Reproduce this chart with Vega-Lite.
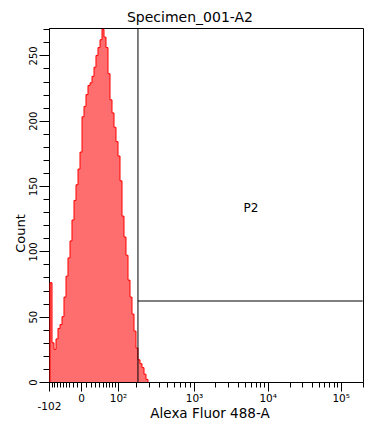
{
  "$schema": "https://vega.github.io/schema/vega-lite/v6.json",
  "width": 314,
  "height": 354,
  "autosize": "none",
  "padding": {"left": 49, "top": 28, "right": 2, "bottom": 39},
  "background": "white",
  "title": {"text": "Specimen_001-A2", "font": "DejaVu Sans", "fontSize": 14, "fontWeight": "normal", "color": "black", "anchor": "middle", "dx": -16, "offset": 2},
  "config": {
    "view": {"stroke": "black", "strokeWidth": 1},
    "axis": {"domainColor": "black", "tickColor": "black", "labelColor": "black", "titleColor": "black", "labelFont": "DejaVu Sans", "titleFont": "DejaVu Sans", "titleFontWeight": "normal", "grid": false, "labelOverlap": false, "labelBound": false, "labelFlush": false}
  },
  "datasets": {
    "hist": [
      {"x": -97.6, "count": 0},
      {"x": -97.6, "count": 76},
      {"x": -89.1, "count": 30},
      {"x": -81.0, "count": 25},
      {"x": -73.2, "count": 33},
      {"x": -65.8, "count": 41},
      {"x": -58.6, "count": 44},
      {"x": -51.8, "count": 50},
      {"x": -45.3, "count": 65},
      {"x": -39.0, "count": 81},
      {"x": -33.1, "count": 95},
      {"x": -27.3, "count": 108},
      {"x": -21.9, "count": 124},
      {"x": -16.6, "count": 139},
      {"x": -11.6, "count": 151},
      {"x": -6.8, "count": 163},
      {"x": -2.2, "count": 176},
      {"x": 1.9, "count": 203},
      {"x": 5.8, "count": 211},
      {"x": 9.8, "count": 220},
      {"x": 14.0, "count": 227},
      {"x": 18.4, "count": 229},
      {"x": 22.9, "count": 234},
      {"x": 27.6, "count": 241},
      {"x": 32.4, "count": 250},
      {"x": 37.5, "count": 256},
      {"x": 42.8, "count": 262},
      {"x": 48.2, "count": 270},
      {"x": 53.9, "count": 264},
      {"x": 59.7, "count": 256},
      {"x": 65.8, "count": 236},
      {"x": 72.2, "count": 216},
      {"x": 78.7, "count": 206},
      {"x": 85.6, "count": 195},
      {"x": 92.6, "count": 184},
      {"x": 100.0, "count": 173},
      {"x": 109.2, "count": 154},
      {"x": 118.8, "count": 127},
      {"x": 128.8, "count": 111},
      {"x": 139.3, "count": 97},
      {"x": 150.3, "count": 78},
      {"x": 161.8, "count": 65},
      {"x": 173.8, "count": 52},
      {"x": 186.4, "count": 39},
      {"x": 199.5, "count": 26},
      {"x": 213.2, "count": 17},
      {"x": 227.6, "count": 14},
      {"x": 242.6, "count": 11},
      {"x": 258.4, "count": 6},
      {"x": 274.8, "count": 2},
      {"x": 292.0, "count": 0}
    ]
  },
  "encoding": {
    "x": {
      "field": "x",
      "type": "quantitative",
      "scale": {"type": "symlog", "constant": 100, "domain": [-102, 0, 100, 1000, 10000, 100000, 200000], "range": [0, 32, 69, 145, 218.7, 291.7, 313.7], "nice": false, "zero": false},
      "axis": null
    },
    "y": {
      "field": "count",
      "type": "quantitative",
      "scale": {"domain": [0, 271], "nice": false, "zero": true},
      "axis": {
        "title": "Count",
        "titleFontSize": 13,
        "titleAngle": 270,
        "titleX": -29,
        "titleY": 205,
        "titleAlign": "center",
        "titleBaseline": "middle",
        "labelFontSize": 10,
        "labelAngle": 270,
        "labelAlign": "center",
        "labelBaseline": "alphabetic",
        "labelPadding": 3,
        "values": [0, 10, 20, 30, 40, 50, 60, 70, 80, 90, 100, 110, 120, 130, 140, 150, 160, 170, 180, 190, 200, 210, 220, 230, 240, 250, 260, 270],
        "labelExpr": "datum.value % 50 == 0 ? datum.label : ''",
        "tickSize": {"condition": {"test": "datum.value % 50 == 0", "value": 10}, "value": 6}
      }
    }
  },
  "resolve": {"axis": {"x": "independent"}},
  "layer": [
    {
      "data": {"name": "hist"},
      "mark": {"type": "area", "interpolate": "step-after", "color": "#ff6e6e"},
      "encoding": {
        "x": {
          "field": "x",
          "type": "quantitative",
          "axis": {
            "orient": "bottom",
            "title": "Alexa Fluor 488-A",
            "titleFontSize": 13.5,
            "titleX": 160.5,
            "titleY": 35,
            "titleAlign": "center",
            "titleBaseline": "alphabetic",
            "labelFontSize": 10.5,
            "labelOverlap": false,
            "tickSize": 9,
            "labelPadding": 2,
            "values": [100, 1000, 10000, 100000],
            "labelExpr": "datum.value < 101 ? '10²' : datum.value < 1001 ? '10³' : datum.value < 10001 ? '10⁴' : '10⁵'"
          }
        }
      }
    },
    {
      "data": {"name": "hist"},
      "mark": {"type": "line", "interpolate": "step-after", "color": "#ff0000", "strokeWidth": 1},
      "encoding": {
        "x": {
          "field": "x",
          "type": "quantitative",
          "axis": {
            "orient": "bottom",
            "title": null,
            "domain": false,
            "zindex": 2,
            "labelFontSize": 10.5,
            "labelOverlap": false,
            "labelBound": false,
            "labelFlush": false,
            "labelLimit": 0,
            "labelAngle": 0,
            "tickSize": 9,
            "labelPadding": 2,
            "values": [0],
            "labelExpr": "'0'"
          }
        }
      }
    },
    {
      "data": {"values": [{"x": 213, "count": 0, "count2": 271}]},
      "mark": {"type": "rule", "color": "black", "strokeWidth": 1},
      "encoding": {
        "x": {
          "field": "x",
          "type": "quantitative",
          "axis": {
            "orient": "bottom",
            "title": null,
            "domain": false,
            "labelFontSize": 10.5,
            "labelOverlap": false,
            "tickSize": 9,
            "labelPadding": 10,
            "values": [-102],
            "labelExpr": "'-102'"
          }
        },
        "y2": {"field": "count2"}
      }
    },
    {
      "data": {"values": [{"x": 213, "x2": 200000, "count": 62}]},
      "mark": {"type": "rule", "color": "black", "strokeWidth": 1},
      "encoding": {
        "x": {
          "field": "x",
          "type": "quantitative",
          "axis": {
            "orient": "bottom",
            "title": null,
            "labels": false,
            "domain": false,
            "tickSize": 5,
            "values": [-90, -80, -70, -60, -50, -40, -30, -20, -10, 10, 20, 30, 40, 50, 60, 70, 80, 90, 200, 300, 400, 500, 600, 700, 800, 900, 2000, 3000, 4000, 5000, 6000, 7000, 8000, 9000, 20000, 30000, 40000, 50000, 60000, 70000, 80000, 90000, 200000]
          }
        },
        "x2": {"field": "x2"}
      }
    },
    {
      "data": {"values": [{"x": 6000, "count": 133, "label": "P2"}]},
      "mark": {"type": "text", "font": "DejaVu Sans", "fontSize": 12, "color": "black"},
      "encoding": {"text": {"field": "label"}}
    }
  ]
}
